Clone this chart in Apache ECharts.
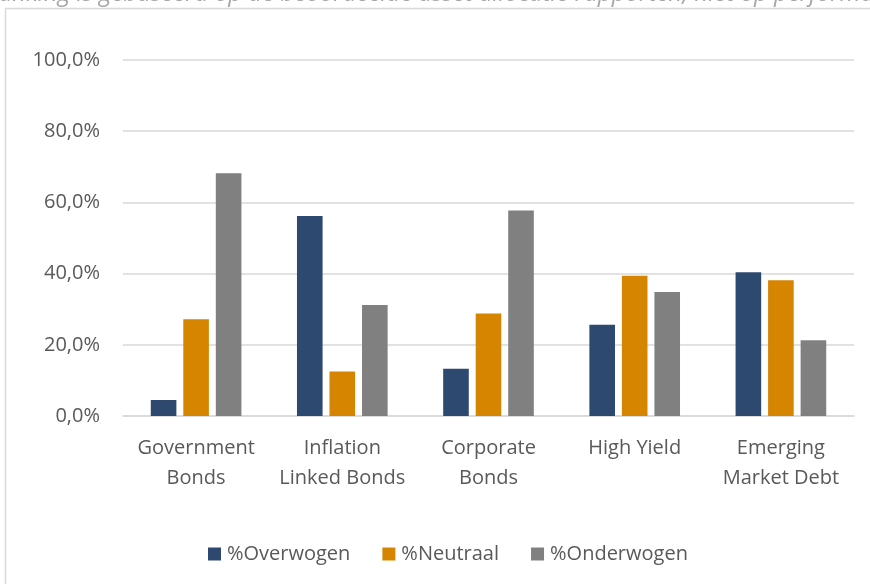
<!DOCTYPE html>
<html>
<head>
<meta charset="utf-8">
<script src="https://cdn.jsdelivr.net/npm/echarts@6/dist/echarts.min.js"></script>
<style>
  html, body { margin: 0; padding: 0; background: #ffffff; }
  #chart { width: 870px; height: 584px; }
</style>
</head>
<body>
<div id="chart"></div>
<script>
// Asset class positioning shares (percent of reviewed reports)
const categories = [
  'Government\nBonds',
  'Inflation\nLinked Bonds',
  'Corporate\nBonds',
  'High Yield',
  'Emerging\nMarket Debt'
];
const seriesNames = ['%Overwogen', '%Neutraal', '%Onderwogen'];
const overwogen   = [4.5, 56.2, 13.3, 25.6, 40.4];
const neutraal    = [27.2, 12.5, 28.8, 39.4, 38.1];
const onderwogen  = [68.2, 31.2, 57.7, 34.8, 21.3];
const yTicks = [0, 20, 40, 60, 80, 100];
const noteText = 'Ranking is gebaseerd op de beoordeelde asset allocatie rapporten, niet op performance';

const colors = ['#2d4970', '#d68500', '#808080'];
const font = '"Open Sans", "Noto Sans", sans-serif';

const chart = echarts.init(document.getElementById('chart'), null, { renderer: 'canvas' });

function pct(v) {
  return v.toFixed(1).replace('.', ',') + '%';
}

const seriesData = [overwogen, neutraal, onderwogen];

chart.setOption({
  animation: false,
  backgroundColor: '#ffffff',
  color: colors,
  textStyle: { fontFamily: font },
  graphic: [
    {
      type: 'rect',
      shape: { x: 5.5, y: 8.5, width: 900, height: 600 },
      style: { fill: 'none', stroke: '#d9d9d9', lineWidth: 1.5 },
      z: -1
    },
    {
      type: 'text',
      x: -15,
      y: 6,
      style: {
        text: noteText,
        font: 'italic 24px ' + font,
        fill: '#a6a6a6',
        verticalAlign: 'bottom'
      }
    }
  ],
  grid: {
    left: 123,
    right: 16,
    top: 60,
    bottom: 584 - 416
  },
  legend: {
    data: seriesNames,
    left: 203,
    top: 539,
    icon: 'rect',
    itemWidth: 13,
    itemHeight: 13,
    itemGap: 32,
    textStyle: { fontSize: 20, color: '#595959', fontFamily: font, padding: [0, 0, 0, 1] }
  },
  xAxis: {
    type: 'category',
    data: categories,
    axisLine: { show: true, lineStyle: { color: '#d9d9d9', width: 1.5 } },
    axisTick: { show: false },
    axisLabel: {
      fontSize: 20,
      color: '#595959',
      lineHeight: 30,
      margin: 17,
      interval: 0
    }
  },
  yAxis: {
    type: 'value',
    min: yTicks[0],
    max: yTicks[yTicks.length - 1],
    interval: 20,
    axisLine: { show: false },
    axisTick: { show: false },
    splitLine: { lineStyle: { color: '#d9d9d9', width: 1.5 } },
    axisLabel: {
      fontSize: 20,
      color: '#595959',
      margin: 23,
      formatter: (v) => pct(v)
    }
  },
  series: seriesNames.map((name, i) => ({
    name: name,
    type: 'bar',
    data: seriesData[i],
    barGap: '27%',
    barCategoryGap: '38%',
    itemStyle: { color: colors[i] }
  }))
});
</script>
</body>
</html>
